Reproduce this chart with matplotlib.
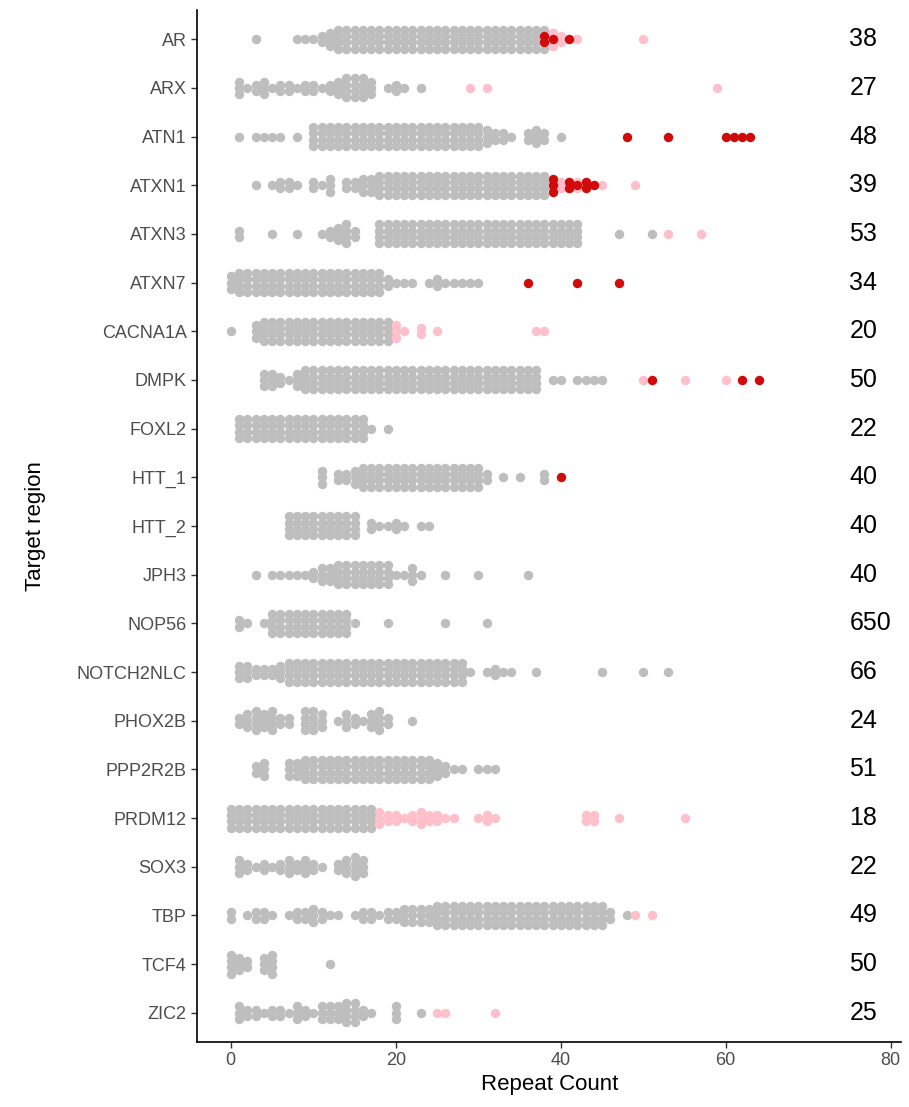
import numpy as np
import matplotlib
matplotlib.use('Agg')
import matplotlib.pyplot as plt

plt.rcParams['font.family'] = ['Liberation Sans', 'DejaVu Sans']

# ---------------------------------------------------------------------------
# target regions, top to bottom, and the threshold numbers printed at right
GENES = ['AR', 'ARX', 'ATN1', 'ATXN1', 'ATXN3', 'ATXN7', 'CACNA1A', 'DMPK',
         'FOXL2', 'HTT_1', 'HTT_2', 'JPH3', 'NOP56', 'NOTCH2NLC', 'PHOX2B',
         'PPP2R2B', 'PRDM12', 'SOX3', 'TBP', 'TCF4', 'ZIC2']
THRESHOLDS = [38, 27, 48, 39, 53, 34, 20, 50, 22, 40, 40, 40, 650, 66, 24,
              51, 18, 22, 49, 50, 25]

# visible dots per repeat count (string index = repeat count, digit = dots)
GRAY = {
    'AR':        '0001000011123444444444444444444444444443',
    'ARX':       '031231221221234443012101',
    'ATN1':      '01011110104444444444444444444443221023201',
    'ATXN1':     '000101221021302233444444444444444444444',
    'ATXN3':     '0200010010012342004444444444444444444444444000010001',
    'ATXN7':     '3444444444444444444211101211111',
    'CACNA1A':   '10034444444444444444',
    'DMPK':      '0000332134444444444444444444444444444401101111',
    'FOXL2':     '04444444444444444101',
    'HTT_1':     '000000000003022344444444444444420101002',
    'HTT_2':     '0000000444444444021121011',
    'JPH3':      '0001011111233444444411310010001000001',
    'NOP56':     '0210144444444441000100000010000100',
    'NOTCH2NLC': '0332223444444444444444444444410121100100000001000010010',
    'PHOX2B':    '02343422044301321342001',
    'PPP2R2B':   '000230033444444444444444432110111',
    'PRDM12':    '444444444444444444',
    'SOX3':      '03212123232102343',
    'TBP':       '2012210122321101221223333444444444444444444444201',
    'TCF4':      '4320340000001',
    'ZIC2':      '032212213213334421003001',
}
PINK = {
    'AR':      {38: 2, 39: 3, 40: 2, 42: 1, 50: 1},
    'ARX':     {29: 1, 31: 1, 59: 1},
    'ATXN1':   {39: 2, 40: 2, 41: 2, 42: 2, 43: 2, 44: 1, 45: 1, 49: 1},
    'ATXN3':   {53: 1, 57: 1},
    'CACNA1A': {20: 3, 21: 1, 23: 2, 25: 1, 37: 1, 38: 1},
    'DMPK':    {50: 1, 55: 1, 60: 1},
    'PRDM12':  {18: 3, 19: 2, 20: 2, 21: 1, 22: 2, 23: 3, 24: 2, 25: 2, 26: 1,
                27: 1, 30: 1, 31: 2, 32: 1, 43: 2, 44: 2, 47: 1, 55: 1},
    'TBP':     {49: 1, 51: 1},
    'ZIC2':    {25: 1, 26: 1, 32: 1},
}
RED = {
    'AR':    {38: 2, 39: 1, 41: 1},
    'ATN1':  {48: 1, 53: 1, 60: 1, 61: 1, 62: 1, 63: 1},
    'ATXN1': {39: 3, 41: 2, 42: 1, 43: 2, 44: 1},
    'ATXN7': {36: 1, 42: 1, 47: 1},
    'DMPK':  {51: 1, 62: 1, 64: 1},
    'HTT_1': {40: 1},
}

C_GRAY, C_PINK, C_RED = '#BEBEBE', '#FFC0CB', '#D10A0A'
STEP = 0.13           # vertical spacing of stacked dots (row units)
MS = 46


def stack(counts, row):
    xs, ys = [], []
    for v, n in counts.items():
        for k in range(n):
            xs.append(v)
            ys.append(row + (k - (n - 1) / 2) * STEP)
    return xs, ys


fig = plt.figure(figsize=(9.09, 11.07), dpi=100)
ax = fig.add_axes([0.2167, 0.0587, 0.775, 0.9323])

nrow = len(GENES)
for i, g in enumerate(GENES):
    row = nrow - i
    gc = {v: int(c) for v, c in enumerate(GRAY[g]) if c != '0'}
    for counts, col in [(gc, C_GRAY), (PINK.get(g, {}), C_PINK),
                        (RED.get(g, {}), C_RED)]:
        xs, ys = stack(counts, row)
        ax.scatter(xs, ys, s=MS, color=col, linewidths=0, zorder=2)
    ax.text(75.0, row, str(THRESHOLDS[i]), ha='left', va='center',
            fontsize=18, color='black')

ax.set_xlim(-4.1, 81.3)
ax.set_ylim(0.4, nrow + 0.6)
ax.set_yticks(range(nrow, 0, -1))
ax.set_yticklabels(GENES)
ax.set_xticks([0, 20, 40, 60, 80])
ax.tick_params(axis='both', colors='#333333', labelcolor='#4D4D4D',
               labelsize=13, length=4, width=1)
for s in ['top', 'right']:
    ax.spines[s].set_visible(False)
for s in ['left', 'bottom']:
    ax.spines[s].set_linewidth(1.2)
ax.set_xlabel('Repeat Count', fontsize=16, labelpad=3)
ax.set_ylabel('Target region', fontsize=16, labelpad=22)

fig.savefig('out.png', dpi=100)
